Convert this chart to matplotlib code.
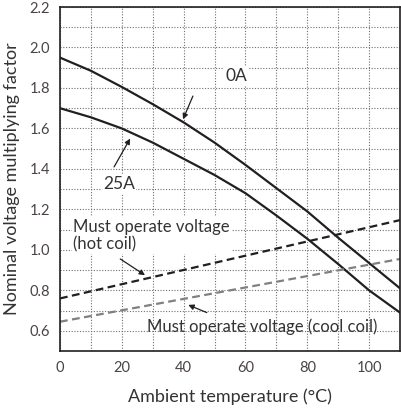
import numpy as np
import matplotlib.pyplot as plt
from matplotlib.ticker import MultipleLocator

plt.rcParams['font.family'] = ['Lato', 'DejaVu Sans']

# dane
temp = [0, 10, 20, 30, 40, 50, 60, 70, 80, 90, 100, 110]
factor_0a = [1.95, 1.885, 1.805, 1.72, 1.63, 1.53, 1.42, 1.305, 1.19, 1.06, 0.935, 0.81]
factor_25a = [1.70, 1.655, 1.60, 1.53, 1.45, 1.37, 1.28, 1.17, 1.055, 0.93, 0.80, 0.69]
hot_coil = [0.76, 1.147]
cool_coil = [0.645, 0.955]
line_x = [0, 110]

fig = plt.figure(figsize=(4.01, 4.13), dpi=100)
ax = fig.add_axes([0.1496, 0.150, 0.8479, 0.833])

ax.plot(temp, factor_0a, color='#231f20', lw=1.6)
ax.plot(temp, factor_25a, color='#231f20', lw=1.6)
ax.plot(line_x, hot_coil, color='#231f20', lw=1.6, ls=(0, (3.5, 2)))
ax.plot(line_x, cool_coil, color='#808080', lw=1.6, ls=(0, (3.5, 2)))

ax.set_xlim(0, 110)
ax.set_ylim(0.5, 2.2)
ax.xaxis.set_major_locator(MultipleLocator(20))
ax.xaxis.set_minor_locator(MultipleLocator(10))
ax.yaxis.set_major_locator(MultipleLocator(0.2))
ax.yaxis.set_minor_locator(MultipleLocator(0.1))
ax.yaxis.set_major_formatter(plt.FuncFormatter(lambda v, p: f"{v:.1f}"))
ax.grid(which='both', color='#707070', ls=(0, (1, 1.5)), lw=0.8)
ax.tick_params(which='both', length=0, labelsize=10.5, colors='#4a4446', pad=7)
for s in ax.spines.values():
    s.set_color('#231f20')
    s.set_linewidth(1.2)

ax.set_xlabel('Ambient temperature (°C)', fontsize=13, color='#333333', labelpad=10)
ax.set_ylabel('Nominal voltage multiplying factor', fontsize=13, color='#333333', labelpad=7)

bb = dict(boxstyle='square,pad=0.1', fc='white', ec='none')
arrow = dict(arrowstyle='-|>', color='#231f20', lw=0.9, mutation_scale=8, shrinkA=0, shrinkB=0)
ax.text(57, 1.86, '0A', fontsize=12.5, color='#333333', ha='center', va='center', bbox=bb)
ax.annotate('', xy=(39.8, 1.645), xytext=(43, 1.76), arrowprops=arrow)
ax.text(19, 1.325, '25A', fontsize=12.5, color='#333333', ha='center', va='center', bbox=bb)
ax.annotate('', xy=(22.7, 1.55), xytext=(17.5, 1.41), arrowprops=arrow)
ax.text(4.3, 1.07, 'Must operate voltage\n(hot coil)', fontsize=12, color='#333333',
        ha='left', va='center', linespacing=1.15, bbox=bb)
ax.annotate('', xy=(27.5, 0.875), xytext=(19.5, 0.955), arrowprops=arrow)
ax.text(28, 0.62, 'Must operate voltage (cool coil)', fontsize=12, color='#333333',
        ha='left', va='center')
ax.annotate('', xy=(41.5, 0.728), xytext=(47.5, 0.69), arrowprops=arrow)

fig.savefig('out.png', dpi=100)
